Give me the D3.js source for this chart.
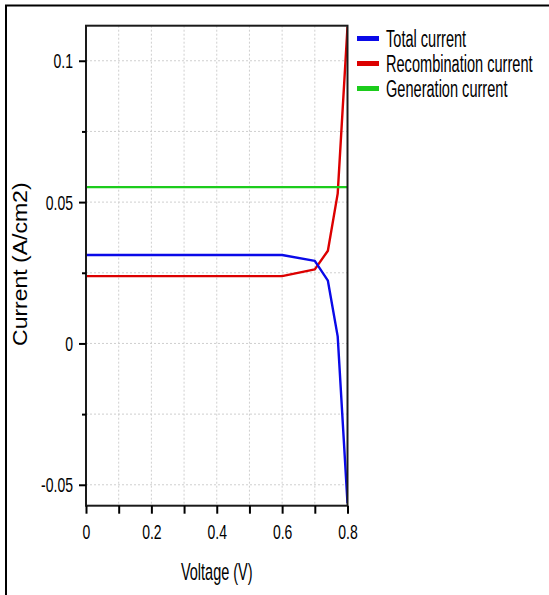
<!DOCTYPE html>
<html>
<head>
<meta charset="utf-8">
<script src="https://cdn.jsdelivr.net/npm/d3@7"></script>
<style>
  body { margin: 0; background: #fff; }
  svg { display: block; }
  text { font-family: "Liberation Sans", Arial, Helvetica, sans-serif; fill: #000; }
</style>
</head>
<body>
<svg id="chart" width="549" height="595"></svg>
<script>
// Bias sweep (V) and current densities (A/cm2)
const voltage = [0, 0.1, 0.2, 0.3, 0.4, 0.5, 0.6, 0.7, 0.74, 0.77, 0.8];
const totalCurrent = [0.0313, 0.0313, 0.0313, 0.0313, 0.0313, 0.0313, 0.0313, 0.0292, 0.0222, 0.0025, -0.0565];
const recombinationCurrent = [0.0238, 0.0238, 0.0238, 0.0238, 0.0238, 0.0238, 0.0238, 0.0262, 0.0328, 0.053, 0.112];
const generationCurrent = [0.0553, 0.0553, 0.0553, 0.0553, 0.0553, 0.0553, 0.0553, 0.0553, 0.0553, 0.0553, 0.0553];

const seriesNames = ["Total current", "Recombination current", "Generation current"];
const seriesColors = ["#0a0ae8", "#dc0000", "#1ccc1c"];

const xTicks = [0, 0.1, 0.2, 0.3, 0.4, 0.5, 0.6, 0.7, 0.8];
const xTickLabels = ["0", "", "0.2", "", "0.4", "", "0.6", "", "0.8"];
const yMajorTicks = [-0.05, 0, 0.05, 0.1];
const yMajorLabels = ["-0.05", "0", "0.05", "0.1"];
const yMinorTicks = [-0.025, 0.025, 0.075];
const yGrid = [-0.05, -0.025, 0, 0.025, 0.05, 0.075, 0.1];
const xGrid = [0.1, 0.2, 0.3, 0.4, 0.5, 0.6, 0.7];

const svg = d3.select("#chart");

// outer frame (top and left edges)
svg.append("path")
  .attr("d", "M6,595 L6,5.5 L549,5.5")
  .attr("fill", "none").attr("stroke", "#000").attr("stroke-width", 2);

const plot = { left: 86, right: 347.5, top: 25.7, bottom: 505.7 };
const x = d3.scaleLinear().domain([0, 0.8]).range([plot.left, plot.right]);
const y = d3.scaleLinear().domain([-0.0574, 0.1124]).range([plot.bottom, plot.top]);

// grid
const grid = svg.append("g").attr("stroke", "#cfcfcf").attr("stroke-width", 1).attr("stroke-dasharray", "2,2");
grid.selectAll(".gy").data(yGrid).join("line")
  .attr("x1", plot.left).attr("x2", plot.right)
  .attr("y1", d => y(d)).attr("y2", d => y(d));
grid.selectAll(".gx").data(xGrid).join("line")
  .attr("y1", plot.top).attr("y2", plot.bottom)
  .attr("x1", d => x(d)).attr("x2", d => x(d));

// curves
svg.append("clipPath").attr("id", "clip").append("rect")
  .attr("x", plot.left).attr("y", plot.top)
  .attr("width", plot.right - plot.left).attr("height", plot.bottom - plot.top);

const line = d3.line().x(d => x(d[0])).y(d => y(d[1]));
const curves = svg.append("g").attr("clip-path", "url(#clip)");
const drawOrder = [
  [recombinationCurrent, seriesColors[1]],
  [totalCurrent, seriesColors[0]],
  [generationCurrent, seriesColors[2]]
];
drawOrder.forEach(([vals, col]) => {
  curves.append("path")
    .datum(voltage.map((v, i) => [v, vals[i]]))
    .attr("d", line)
    .attr("fill", "none")
    .attr("stroke", col)
    .attr("stroke-width", 2.4)
    .attr("stroke-linejoin", "round");
});

// plot frame
svg.append("rect")
  .attr("x", plot.left).attr("y", plot.top)
  .attr("width", plot.right - plot.left).attr("height", plot.bottom - plot.top)
  .attr("fill", "none").attr("stroke", "#1a1a1a").attr("stroke-width", 2);

const tickSx = 0.7;

// y axis, labelled ticks
const yAxis = svg.append("g").attr("transform", `translate(${plot.left},0)`)
  .call(d3.axisLeft(y).tickValues(yMajorTicks).tickSize(7)
    .tickFormat((d, i) => yMajorLabels[i]));
yAxis.select(".domain").remove();
yAxis.selectAll(".tick line").attr("stroke", "#000").attr("stroke-width", 2);
yAxis.selectAll(".tick text")
  .attr("font-size", 20).attr("font-family", null)
  .attr("text-anchor", "end")
  .attr("x", -13 / tickSx).attr("dy", "0.36em")
  .attr("transform", `scale(${tickSx},1)`);

// y axis, minor ticks
const yMinor = svg.append("g").attr("transform", `translate(${plot.left},0)`)
  .call(d3.axisLeft(y).tickValues(yMinorTicks).tickSize(4).tickFormat(""));
yMinor.select(".domain").remove();
yMinor.selectAll(".tick line").attr("stroke", "#000").attr("stroke-width", 2);

// x axis
const xAxis = svg.append("g").attr("transform", `translate(0,${plot.bottom})`)
  .call(d3.axisBottom(x).tickValues(xTicks).tickSize(8)
    .tickFormat((d, i) => xTickLabels[i]));
xAxis.select(".domain").remove();
xAxis.selectAll(".tick line").attr("stroke", "#000").attr("stroke-width", 2);
xAxis.selectAll(".tick text")
  .attr("font-size", 20).attr("font-family", null)
  .attr("y", 33).attr("dy", 0)
  .attr("transform", `scale(${tickSx},1)`);

// axis titles
svg.append("text")
  .attr("transform", `translate(${(plot.left + plot.right) / 2},580) scale(0.63,1)`)
  .attr("text-anchor", "middle").attr("font-size", 23)
  .text("Voltage (V)");

svg.append("text")
  .attr("transform", `translate(26.5,${(plot.top + plot.bottom) / 2 - 1.5}) rotate(-90) scale(1,0.87)`)
  .attr("text-anchor", "middle").attr("font-size", 23)
  .text("Current (A/cm2)");

// legend
const legend = svg.append("g").attr("transform", "translate(357,38.5)");
seriesNames.forEach((name, i) => {
  const g = legend.append("g").attr("transform", `translate(0,${i * 25})`);
  g.append("rect").attr("x", 0).attr("y", -2.5).attr("width", 22).attr("height", 5)
    .attr("fill", seriesColors[i]);
  g.append("text")
    .attr("transform", "translate(29,8.3) scale(0.62,1)")
    .attr("font-size", 23.5)
    .text(name);
});
</script>
</body>
</html>
